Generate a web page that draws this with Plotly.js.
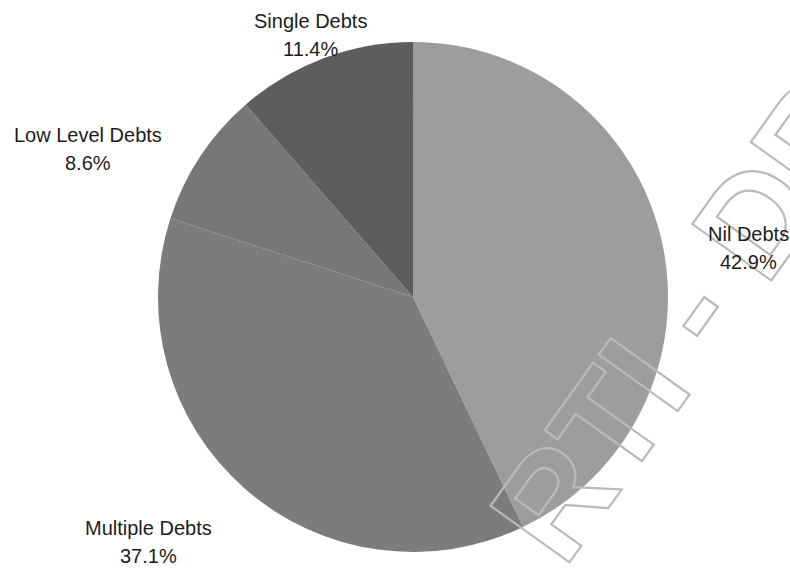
<!DOCTYPE html>
<html>
<head>
<meta charset="utf-8">
<script src="https://cdn.plot.ly/plotly-3.0.1.min.js"></script>
<style>html,body{margin:0;padding:0;background:#fff}#chart{width:790px;height:571px}</style>
</head>
<body>
<div id="chart"></div>
<script>
const categories = ["Nil Debts", "Multiple Debts", "Low Level Debts", "Single Debts"];
const shares = [42.9, 37.1, 8.6, 11.4];
const sliceColors = ["#9d9d9d", "#7c7c7c", "#777777", "#5d5d5d"];
// label anchor positions in pixels (center x, center y of the name line)
const labelPos = [[748, 234], [148, 528], [88, 135], [310, 21]];
const lineGap = 28;

const W = 790, H = 571;

const wm = '<svg xmlns="http://www.w3.org/2000/svg" width="790" height="571" viewBox="0 0 790 571">' +
  '<text x="564" y="570" transform="rotate(-54.4 564 570)" font-family="Liberation Sans, Arial, sans-serif" font-weight="bold" font-size="141" letter-spacing="-1" fill="none" stroke="#bababa" stroke-width="2.2">RTI - DR</text>' +
  '</svg>';

const trace = {
  type: "pie",
  labels: categories,
  values: shares,
  sort: false,
  direction: "clockwise",
  rotation: 0,
  marker: { colors: sliceColors, line: { width: 0 } },
  textinfo: "none",
  domain: { x: [0.2, 0.8456], y: [0.0333, 0.9265] },
  hoverinfo: "label+percent",
  showlegend: false
};

const labelFont = { family: "Liberation Sans, Arial, sans-serif", size: 20, color: "#1c1c1c" };
const annotations = [];
categories.forEach((c, i) => {
  const [px, py] = labelPos[i];
  annotations.push({
    xref: "paper", yref: "paper", x: px / W, y: 1 - py / H,
    xanchor: "center", yanchor: "middle", showarrow: false,
    text: c, font: labelFont
  });
  annotations.push({
    xref: "paper", yref: "paper", x: px / W, y: 1 - (py + lineGap) / H,
    xanchor: "center", yanchor: "middle", showarrow: false,
    text: shares[i].toFixed(1) + "%", font: labelFont
  });
});

const layout = {
  width: W,
  height: H,
  margin: { l: 0, r: 0, t: 0, b: 0 },
  paper_bgcolor: "#ffffff",
  showlegend: false,
  annotations: annotations,
  images: [{
    source: "data:image/svg+xml;charset=utf-8," + encodeURIComponent(wm),
    xref: "paper", yref: "paper",
    x: 0, y: 1, sizex: 1, sizey: 1,
    xanchor: "left", yanchor: "top",
    sizing: "stretch", layer: "above"
  }]
};

Plotly.newPlot("chart", [trace], layout, { displayModeBar: false, staticPlot: true });
</script>
</body>
</html>
